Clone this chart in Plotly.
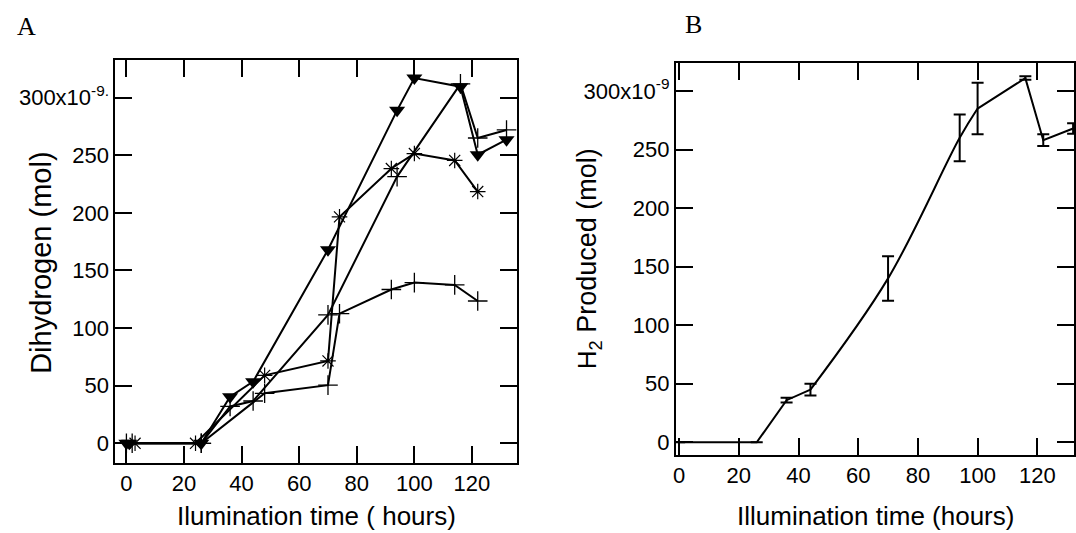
import plotly.graph_objects as go

# ---- Panel A: dihydrogen produced in four individual runs (x10^-9 mol) ----
tri_time = [0, 1, 26, 36, 44, 70, 94, 100, 116, 122, 132]
tri_h2 = [0, 0, 0, 40.5, 53.5, 168, 289, 317, 309.5, 250.5, 263.5]

star_time = [3, 24, 48, 70, 74, 92, 100, 114, 122]
star_h2 = [0, 0, 59, 71.5, 196.5, 238.5, 251.5, 245.5, 218.5]

plusa_time = [0, 26, 36, 44, 70, 94, 116, 122, 132]
plusa_h2 = [0, 0, 32, 36.7, 111.5, 231.5, 312, 265, 272]

plusb_time = [2, 26, 48, 70, 74, 92, 100, 114, 122]
plusb_h2 = [0, 0, 43.4, 50.5, 112.5, 133.5, 139.5, 137.5, 123.5]

# ---- Panel B: mean H2 produced with error bars (x10^-9 mol) ----
b_time = [0, 26, 36, 44, 70, 94, 100, 116, 122, 132]
b_mean = [0, 0, 36, 45, 140, 260, 285, 311, 258, 268]
b_err = [0, 0, 2, 5, 19, 20, 22, 1.5, 5, 4.5]

y_ticks = [0, 50, 100, 150, 200, 250, 300]
x_ticks = [0, 20, 40, 60, 80, 100, 120]
a_ytext = ["0", "50", "100", "150", "200", "250", "300x10<sup>-9.</sup>"]
b_ytext = ["0", "50", "100", "150", "200", "250", "300x10<sup>-9</sup>"]

W, H = 1076, 533
FONT = "Liberation Sans, Arial, sans-serif"
BLACK = "black"

fig = go.Figure()

line_style = dict(color=BLACK, width=2)

fig.add_trace(go.Scatter(
    x=tri_time, y=tri_h2, mode="lines+markers", line=line_style,
    marker=dict(symbol="triangle-down", size=14, color=BLACK),
    xaxis="x", yaxis="y", showlegend=False, cliponaxis=False))
fig.add_trace(go.Scatter(
    x=star_time, y=star_h2, mode="lines+markers", line=line_style,
    marker=dict(symbol="asterisk-open", size=13, color=BLACK,
                line=dict(color="#222222", width=1.2)),
    xaxis="x", yaxis="y", showlegend=False, cliponaxis=False))
fig.add_trace(go.Scatter(
    x=plusa_time, y=plusa_h2, mode="lines+markers", line=line_style,
    marker=dict(symbol="cross-thin-open", size=14, color=BLACK,
                line=dict(color=BLACK, width=1.3)),
    xaxis="x", yaxis="y", showlegend=False, cliponaxis=False))
fig.add_trace(go.Scatter(
    x=plusb_time, y=plusb_h2, mode="lines+markers", line=line_style,
    marker=dict(symbol="cross-thin-open", size=14, color=BLACK,
                line=dict(color=BLACK, width=1.3)),
    xaxis="x", yaxis="y", showlegend=False, cliponaxis=False))

# Panel B curve: straight segments, smooth through the steep middle part
segments = [(0, 4, "linear"), (3, 7, "spline"), (6, 10, "linear")]
for i0, i1, shape in segments:
    fig.add_trace(go.Scatter(
        x=b_time[i0:i1], y=b_mean[i0:i1], mode="lines",
        line=dict(color=BLACK, width=2, shape=shape),
        xaxis="x2", yaxis="y2", showlegend=False))

fig.add_trace(go.Scatter(
    x=b_time, y=b_mean, mode="markers",
    marker=dict(size=1, color="rgba(0,0,0,0)"),
    error_y=dict(type="data", array=b_err, visible=True,
                 color=BLACK, thickness=2, width=6),
    xaxis="x2", yaxis="y2", showlegend=False))


def px_x(p):
    return p / W


def px_y(p):
    return 1 - p / H


fig.update_layout(
    width=W, height=H,
    margin=dict(l=0, r=0, t=0, b=0),
    paper_bgcolor="white", plot_bgcolor="white",
    xaxis=dict(domain=[px_x(113), px_x(516)], range=[-3.8, 135.5],
               tickmode="array", tickvals=x_ticks, anchor="y"),
    yaxis=dict(domain=[px_y(463), px_y(60)], range=[-17.1, 332.7],
               tickmode="array", tickvals=y_ticks, ticktext=a_ytext, anchor="x"),
    xaxis2=dict(domain=[px_x(676), 1.0], range=[-1.1, 132.3],
                tickmode="array", tickvals=x_ticks, anchor="y2"),
    yaxis2=dict(domain=[px_y(455), px_y(63)], range=[-10.8, 323.9],
                tickmode="array", tickvals=y_ticks, ticktext=b_ytext, anchor="x2"),
)

# Frame and inward tick marks on all four sides of both panels
axis_style = dict(
    showgrid=False, zeroline=False, showline=True, linecolor="black",
    linewidth=2, ticks="inside", ticklen=17, tickwidth=2, tickcolor="black",
    mirror="allticks", tickfont=dict(family=FONT, size=22, color="black"),
)
fig.update_xaxes(**axis_style)
fig.update_yaxes(**axis_style)

title_font = dict(family=FONT, size=26, color=BLACK)
panel_font = dict(family="Liberation Serif, Times New Roman, serif", size=26, color=BLACK)

annotations = [
    dict(text="A", x=px_x(12), y=px_y(26), xanchor="left", yanchor="middle",
         font=panel_font),
    dict(text="B", x=px_x(683), y=px_y(24), xanchor="left", yanchor="middle",
         font=panel_font),
    dict(text="Ilumination time ( hours)", x=px_x(315), y=px_y(516),
         xanchor="center", yanchor="middle", font=title_font),
    dict(text="Illumination time (hours)", x=px_x(877), y=px_y(516),
         xanchor="center", yanchor="middle", font=title_font),
    dict(text="Dihydrogen (mol)", x=px_x(38), y=px_y(263), textangle=-90,
         xanchor="center", yanchor="middle",
         font=dict(family=FONT, size=29, color=BLACK)),
    dict(text="H<sub>2</sub><span style='font-size:27px'> Produced (mol)</span>",
         x=px_x(589), y=px_y(259), textangle=-90,
         xanchor="center", yanchor="middle", font=title_font),
]
for a in annotations:
    a.update(xref="paper", yref="paper", showarrow=False)
fig.update_layout(annotations=annotations)

fig.write_html("out.html")
